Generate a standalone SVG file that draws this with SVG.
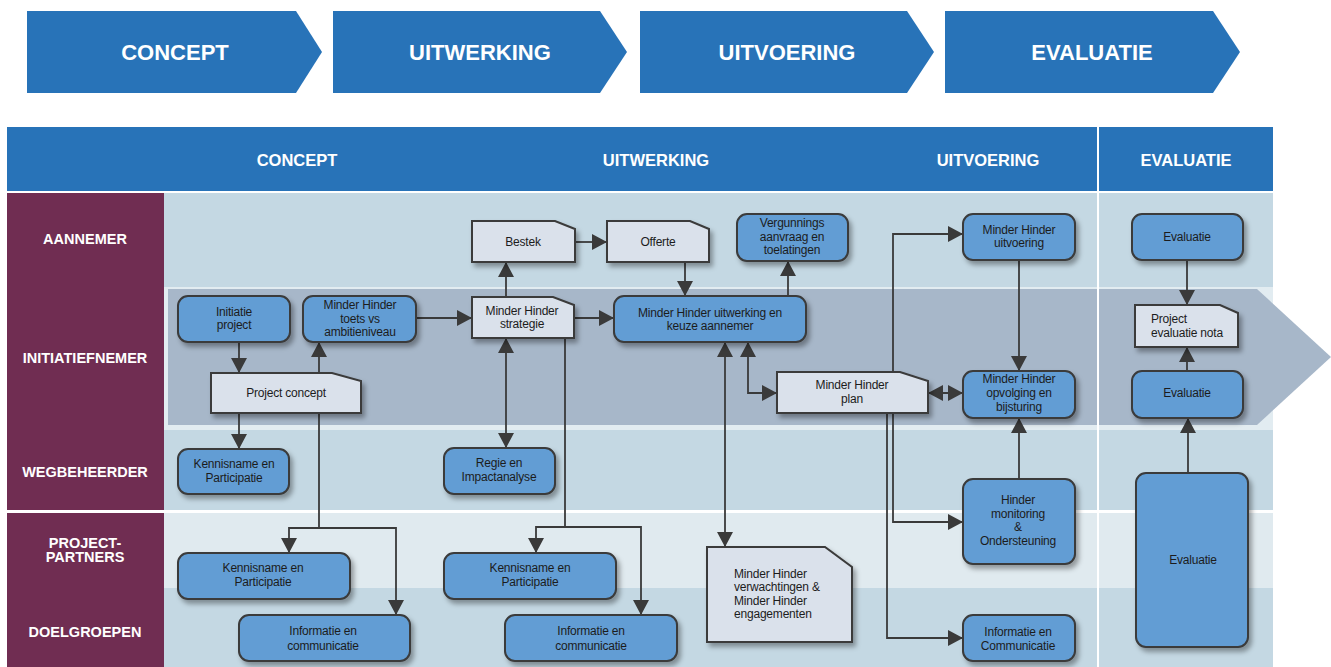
<svg xmlns="http://www.w3.org/2000/svg" width="1331" height="667" viewBox="0 0 1331 667">
<style>
.chev{fill:#2873b8}
.ct{font-family:"Liberation Sans",Arial,sans-serif;font-weight:bold;font-size:22px;fill:#fff;text-anchor:middle}
.ht{font-family:"Liberation Sans",Arial,sans-serif;font-weight:bold;font-size:16.5px;fill:#fff;text-anchor:middle}
.lt{font-family:"Liberation Sans",Arial,sans-serif;font-weight:bold;font-size:14.5px;fill:#fff;text-anchor:middle}
.t{font-family:"Liberation Sans",Arial,sans-serif;font-size:12px;fill:#1c1c1c;text-anchor:middle;letter-spacing:-0.2px}
.tl{font-family:"Liberation Sans",Arial,sans-serif;font-size:12px;fill:#1c1c1c;letter-spacing:-0.2px}
.n{fill:#629dd4;stroke:#3a3a3a;stroke-width:2;filter:url(#sh)}
.d{fill:#dae1eb;stroke:#3a3a3a;stroke-width:2;filter:url(#sh)}
.c{fill:none;stroke:#3a3a3a;stroke-width:1.8;marker-end:url(#ah)}
.cb{fill:none;stroke:#3a3a3a;stroke-width:1.8;marker-end:url(#ah);marker-start:url(#ah)}
.cl{fill:none;stroke:#3a3a3a;stroke-width:1.6}
</style>
<defs>
<marker id="ah" markerUnits="userSpaceOnUse" viewBox="0 0 15 16" markerWidth="15" markerHeight="16" refX="15" refY="8" orient="auto-start-reverse">
<path d="M0,0 L15,8 L0,16 Z" fill="#3a3a3a"/>
</marker>
<filter id="sh" x="-10%" y="-10%" width="130%" height="140%">
<feDropShadow dx="3" dy="4" stdDeviation="2.5" flood-color="#000" flood-opacity="0.35"/>
</filter>
</defs>

<g id="phases">
<polygon class="chev" points="27,11 296,11 322,52 296,93 27,93"/>
<text class="ct" x="175" y="60">CONCEPT</text>
<polygon class="chev" points="333,11 600,11 627,52 600,93 333,93"/>
<text class="ct" x="480" y="60">UITWERKING</text>
<polygon class="chev" points="640,11 907,11 934,52 907,93 640,93"/>
<text class="ct" x="787" y="60">UITVOERING</text>
<polygon class="chev" points="945,11 1213,11 1240,52 1213,93 945,93"/>
<text class="ct" x="1092" y="60">EVALUATIE</text>
</g>

<g id="header">
<rect x="7" y="127" width="1266" height="64" fill="#2873b8"/>
<text class="ht" x="297" y="166">CONCEPT</text>
<text class="ht" x="656" y="166">UITWERKING</text>
<text class="ht" x="988" y="166">UITVOERING</text>
<text class="ht" x="1186" y="166">EVALUATIE</text>
</g>

<g id="lanes">
<rect x="7" y="193" width="157" height="317" fill="#702d52"/>
<rect x="7" y="513" width="157" height="154" fill="#702d52"/>
<rect x="164" y="193" width="1109" height="94" fill="#c4d8e3"/>
<rect x="164" y="287" width="1109" height="143" fill="#e2ecf1"/>
<polygon points="168,289 1257,289 1331,357 1257,425 168,425" fill="#a7b7c9"/>
<rect x="164" y="430" width="1109" height="80" fill="#c4d8e3"/>
<rect x="164" y="513" width="1109" height="75" fill="#e0eaef"/>
<rect x="164" y="588" width="1109" height="79" fill="#c4d8e3"/>
<rect x="1097" y="127" width="2" height="540" fill="#ffffff"/>
<text class="lt" x="85" y="244">AANNEMER</text>
<text class="lt" x="85" y="363">INITIATIEFNEMER</text>
<text class="lt" x="85" y="477">WEGBEHEERDER</text>
<text class="lt" x="85" y="548">PROJECT-</text>
<text class="lt" x="85" y="562">PARTNERS</text>
<text class="lt" x="85" y="637">DOELGROEPEN</text>
</g>

<g id="connectors">
<path class="c" d="M239,342 V373"/>
<path class="c" d="M319,373 V342"/>
<path class="c" d="M239,413 V449"/>
<path class="c" d="M319,413 V528 H289 V553"/>
<path class="c" d="M319,528 H396 V615"/>
<path class="c" d="M416,318 H472"/>
<path class="c" d="M506,297 V262"/>
<path class="c" d="M575,242 H607"/>
<path class="c" d="M685,262 V296"/>
<path class="c" d="M788,296 V261"/>
<path class="c" d="M574,318 H614"/>
<path class="cb" d="M506,338 V448"/>
<path class="c" d="M565,338 V527 H536 V553"/>
<path class="c" d="M565,527 H641 V615"/>
<path class="cb" d="M725,342 V547"/>
<path class="cb" d="M748,342 V393 H777"/>
<path class="cb" d="M928,393 H963"/>
<path class="cb" d="M963,522 H893 V234 H963"/>
<path class="c" d="M887,413 V638 H963"/>
<path class="c" d="M1019,260 V371"/>
<path class="c" d="M1019,479 V418"/>
<path class="c" d="M1187,260 V305"/>
<path class="c" d="M1187,371 V347"/>
<path class="c" d="M1188,473 V418"/>
</g>

<g id="initiatie-project">
<rect class="n" x="178" y="296" width="112" height="46" rx="10"/>
<text class="t" x="234" y="316">Initiatie</text>
<text class="t" x="234" y="329">project</text>
</g>
<g id="mh-toets">
<rect class="n" x="303" y="296" width="113" height="46" rx="10"/>
<text class="t" x="360" y="309">Minder Hinder</text>
<text class="t" x="360" y="323">toets vs</text>
<text class="t" x="360" y="336">ambitieniveau</text>
</g>
<g id="project-concept">
<path class="d" d="M211,373 H332 L361,381 V413 H211 Z"/>
<text class="t" x="286" y="397">Project concept</text>
</g>
<g id="kennisname-weg">
<rect class="n" x="178" y="449" width="111" height="45" rx="10"/>
<text class="t" x="234" y="468">Kennisname en</text>
<text class="t" x="234" y="482">Participatie</text>
</g>
<g id="mh-strategie">
<path class="d" d="M472,297 H553 L574,305 V338 H472 Z"/>
<text class="t" x="522" y="315">Minder Hinder</text>
<text class="t" x="522" y="328">strategie</text>
</g>
<g id="bestek">
<path class="d" d="M472,221 H555 L575,229 V262 H472 Z"/>
<text class="t" x="523" y="246">Bestek</text>
</g>
<g id="offerte">
<path class="d" d="M607,221 H690 L709,229 V262 H607 Z"/>
<text class="t" x="658" y="246">Offerte</text>
</g>
<g id="vergunnings">
<rect class="n" x="737" y="214" width="111" height="47" rx="10"/>
<text class="t" x="792" y="227">Vergunnings</text>
<text class="t" x="792" y="241">aanvraag en</text>
<text class="t" x="792" y="254">toelatingen</text>
</g>
<g id="mh-uitwerking">
<rect class="n" x="614" y="296" width="192" height="46" rx="10"/>
<text class="t" x="710" y="317">Minder Hinder uitwerking en</text>
<text class="t" x="710" y="330">keuze aannemer</text>
</g>
<g id="mh-plan">
<path class="d" d="M777,372 H900 L928,381 V413 H777 Z"/>
<text class="t" x="852" y="389">Minder Hinder</text>
<text class="t" x="852" y="403">plan</text>
</g>
<g id="mh-uitvoering">
<rect class="n" x="963" y="214" width="112" height="46" rx="10"/>
<text class="t" x="1019" y="234">Minder Hinder</text>
<text class="t" x="1019" y="247">uitvoering</text>
</g>
<g id="mh-opvolging">
<rect class="n" x="963" y="371" width="112" height="47" rx="10"/>
<text class="t" x="1019" y="383">Minder Hinder</text>
<text class="t" x="1019" y="397">opvolging en</text>
<text class="t" x="1019" y="411">bijsturing</text>
</g>
<g id="evaluatie-top">
<rect class="n" x="1132" y="214" width="111" height="46" rx="10"/>
<text class="t" x="1187" y="241">Evaluatie</text>
</g>
<g id="project-evaluatienota">
<path class="d" d="M1135,305 H1220 L1238,313 V347 H1135 Z"/>
<text class="tl" x="1151" y="323">Project</text>
<text class="tl" x="1151" y="337">evaluatie nota</text>
</g>
<g id="evaluatie-mid">
<rect class="n" x="1132" y="371" width="111" height="47" rx="10"/>
<text class="t" x="1187" y="397">Evaluatie</text>
</g>
<g id="regie">
<rect class="n" x="444" y="448" width="111" height="46" rx="10"/>
<text class="t" x="499" y="467">Regie en</text>
<text class="t" x="499" y="481">Impactanalyse</text>
</g>
<g id="kennisname-pp-concept">
<rect class="n" x="178" y="553" width="172" height="46" rx="10"/>
<text class="t" x="263" y="572">Kennisname en</text>
<text class="t" x="263" y="586">Participatie</text>
</g>
<g id="informatie-concept">
<rect class="n" x="239" y="615" width="171" height="46" rx="10"/>
<text class="t" x="323" y="635">Informatie en</text>
<text class="t" x="323" y="650">communicatie</text>
</g>
<g id="kennisname-pp-uitwerking">
<rect class="n" x="444" y="553" width="172" height="46" rx="10"/>
<text class="t" x="530" y="572">Kennisname en</text>
<text class="t" x="530" y="586">Participatie</text>
</g>
<g id="informatie-uitwerking">
<rect class="n" x="505" y="615" width="172" height="46" rx="10"/>
<text class="t" x="591" y="635">Informatie en</text>
<text class="t" x="591" y="650">communicatie</text>
</g>
<g id="mh-verwachtingen">
<path class="d" d="M707,547 H825 L852,567 V642 H707 Z"/>
<text class="tl" x="734" y="578">Minder Hinder</text>
<text class="tl" x="734" y="591">verwachtingen &amp;</text>
<text class="tl" x="734" y="605">Minder Hinder</text>
<text class="tl" x="734" y="618">engagementen</text>
</g>
<g id="hinder-monitoring">
<rect class="n" x="963" y="479" width="112" height="85" rx="10"/>
<text class="t" x="1018" y="504">Hinder</text>
<text class="t" x="1018" y="518">monitoring</text>
<text class="t" x="1018" y="531">&amp;</text>
<text class="t" x="1018" y="545">Ondersteuning</text>
</g>
<g id="informatie-uitvoering">
<rect class="n" x="963" y="615" width="112" height="46" rx="10"/>
<text class="t" x="1018" y="636">Informatie en</text>
<text class="t" x="1018" y="650">Communicatie</text>
</g>
<g id="evaluatie-tall">
<rect class="n" x="1136" y="473" width="112" height="174" rx="10"/>
<text class="t" x="1193" y="564">Evaluatie</text>
</g>
</svg>
